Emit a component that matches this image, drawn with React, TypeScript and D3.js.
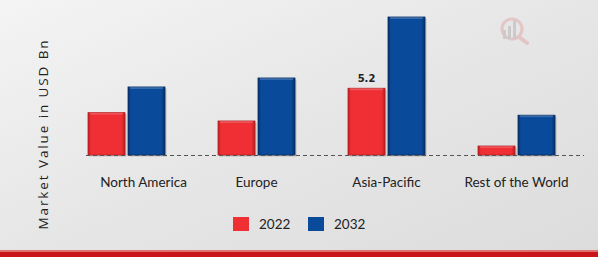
import React from "react";
import * as d3 from "d3";

const categories = ["North America", "Europe", "Asia-Pacific", "Rest of the World"];
const years = ["2022", "2032"];
const values2022 = [3.3, 2.65, 5.2, 0.7];
const values2032 = [5.3, 6.0, 10.75, 3.1];
const seriesColors = ["#ef2f33", "#0a4a9a"];
const edgeColors = ["#b81f22", "#062f66"];

const W = 598;
const H = 257;

export default function App() {
  const baseline = 155;
  const x0 = d3.scaleBand().domain(categories).range([61.5, 581.5]).paddingInner(0).paddingOuter(0);
  const y = d3.scaleLinear().domain([0, 10.75]).range([baseline, 17]);
  const step = x0.bandwidth();
  const barW = 37;
  const gap = 3;
  const series = [values2022, values2032];

  return (
    <svg width={W} height={H} style={{ position: "absolute", left: 0, top: 0 }}>
      <defs>
        <linearGradient id="bg" x1="0" y1="0" x2="1" y2="1">
          <stop offset="0" stopColor="#f4f4f4" />
          <stop offset="0.5" stopColor="#e6e6e6" />
          <stop offset="1" stopColor="#dcdcdc" />
        </linearGradient>
        {seriesColors.map((c, i) => (
          <linearGradient key={i} id={`bar${i}`} x1="0" y1="0" x2="1" y2="0">
            <stop offset="0" stopColor={edgeColors[i]} />
            <stop offset="0.08" stopColor={c} />
            <stop offset="0.9" stopColor={c} />
            <stop offset="1" stopColor={edgeColors[i]} />
          </linearGradient>
        ))}
      </defs>
      <rect x={0} y={0} width={W} height={H} fill="url(#bg)" />
      <rect x={0} y={250} width={W} height={2} fill="#e07070" />
      <rect x={0} y={252} width={W} height={5} fill="#c8141b" />

      <g opacity={0.35}>
        <circle cx={512} cy={29} r={10} fill="none" stroke="#e08a8a" strokeWidth={3} />
        <line x1={519} y1={37} x2={527} y2={43} stroke="#e08a8a" strokeWidth={4} strokeLinecap="round" />
        <rect x={503} y={30} width={3} height={9} fill="#999" />
        <rect x={508} y={26} width={3} height={13} fill="#999" />
        <rect x={513} y={20} width={3} height={19} fill="#999" />
      </g>

      <text
        transform={`translate(48,134) rotate(-90)`}
        textAnchor="middle"
        fontFamily="Open Sans"
        fontSize={13.5}
        letterSpacing={1.9}
        fill="#222"
      >
        Market Value in USD Bn
      </text>

      {categories.map((cat, ci) => {
        const cx = (x0(cat) as number) + step / 2;
        const labelX = cx + (ci === 0 ? 17 : 0);
        return (
          <g key={cat}>
            {series.map((vals, si) => {
              const bx = si === 0 ? cx - gap / 2 - barW : cx + gap / 2;
              const top = y(vals[ci]);
              return (
                <g key={si}>
                  <rect x={bx + 1.5} y={top + 1.5} width={barW} height={baseline - top} fill="#000" opacity={0.18} />
                  <rect x={bx} y={top} width={barW} height={baseline - top} fill={`url(#bar${si})`} stroke={edgeColors[si]} strokeWidth={0.8} />
                  <rect x={bx + 2} y={top} width={barW - 4} height={2} fill="#fff" opacity={0.18} />
                </g>
              );
            })}
            <text x={labelX} y={187} textAnchor="middle" fontFamily="Lato" fontSize={13.5} fill="#222">
              {cat}
            </text>
          </g>
        );
      })}

      <line x1={86} x2={584} y1={baseline + 0.5} y2={baseline + 0.5} stroke="#555" strokeWidth={1} strokeDasharray="4,3" />

      <text
        x={(x0("Asia-Pacific") as number) + step / 2 - gap / 2 - barW / 2}
        y={y(values2022[2]) - 6}
        textAnchor="middle"
        fontFamily="DejaVu Sans"
        fontWeight="bold"
        fontSize={10}
        fill="#222"
      >
        {values2022[2].toFixed(1)}
      </text>

      {years.map((yr, i) => (
        <g key={yr} transform={`translate(${233 + i * 75},217)`}>
          <rect x={0} y={0} width={16} height={14} fill={seriesColors[i]} />
          <text x={26} y={12} fontFamily="Lato" fontSize={13.5} fill="#222">
            {yr}
          </text>
        </g>
      ))}
    </svg>
  );
}
